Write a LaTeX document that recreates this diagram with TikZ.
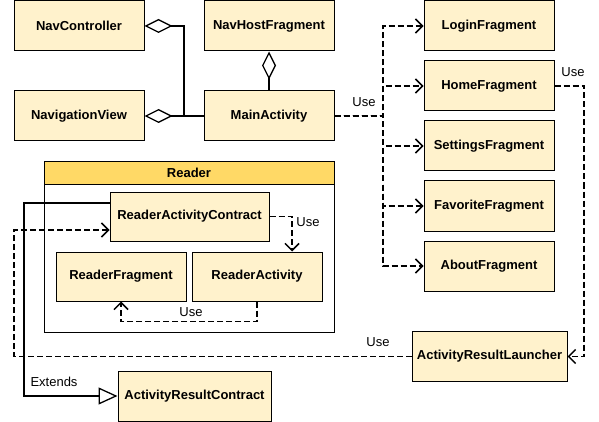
\documentclass[tikz,border=0pt]{standalone}
\usepackage{fontspec}
\setmainfont{Liberation Sans}
\usetikzlibrary{arrows.meta}
\definecolor{classfill}{HTML}{FFF2CC}
\definecolor{pkgfill}{HTML}{FFD966}

\begin{document}
\begin{tikzpicture}[x=1pt,y=-1pt,line width=1.5pt]
    \tikzstyle{class}=[rectangle,draw=black,line width=1pt,fill=classfill,minimum width=130pt,minimum height=50pt,inner sep=0pt,font=\fontsize{13}{15}\selectfont\bfseries]
    \tikzstyle{label}=[inner sep=0pt,font=\fontsize{13}{15}\selectfont]
    \tikzstyle{use}=[dash pattern=on 6pt off 3pt,-{Straight Barb[length=7pt,width=14pt]}]
    \tikzstyle{agg}=[-{Diamond[open,length=28pt,width=14pt,line width=1.3pt]}]
    \tikzstyle{ext}=[-{Triangle[open,length=19pt,width=17pt,line width=1.3pt]}]
    \useasboundingbox (0,0) rectangle (599,422);

    % reader package
    \node[rectangle,draw=black,line width=1pt,fill=white,minimum width=290pt,minimum height=170pt,inner sep=0pt] (reader) at (189,247) {};
    \node[rectangle,draw=black,line width=1pt,fill=pkgfill,minimum width=290pt,minimum height=22pt,inner sep=0pt,font=\fontsize{13}{15}\selectfont\bfseries] (readerhead) at (189,173) {Reader};

    \node[class] (navctrl) at (79,26) {NavController};
    \node[class] (navhost) at (269,26) {NavHostFragment};
    \node[class] (navview) at (79,116) {NavigationView};
    \node[class] (main) at (269,116) {MainActivity};

    \foreach \name/\y/\txt in {login/26/LoginFragment, home/86/HomeFragment, settings/146/SettingsFragment, favorite/206/FavoriteFragment, about/266/AboutFragment}
            \node[class] (\name) at (489,\y) {\txt};

    \node[class,minimum width=155pt] (launcher) at (489.5,356.5) {ActivityResultLauncher};
    \node[class,minimum width=153pt] (contract) at (194.5,396) {ActivityResultContract};
    \node[class,minimum width=159pt,minimum height=49pt] (readercontract) at (189.5,216.5) {ReaderActivityContract};
    \node[class,minimum height=49pt] (readerfrag) at (121,276.5) {ReaderFragment};
    \node[class,minimum height=49pt] (readeract) at (257,276.5) {ReaderActivity};

    \coordinate (navjoin) at (184,116);
    \coordinate (bus) at (383,116);
    \coordinate (rightbus) at (584,86);
    \coordinate (usebend) at (14,356.5);
    \coordinate (extbend) at (24,203);

    \draw[agg] (main.west) -- (navview.east);
    \draw[agg] (navjoin) |- (navctrl.east);
    \draw[agg] (main.north) -- (navhost.south);

    \foreach \to in {login,home,settings,favorite,about}
        \draw[use] (main.east) -- (bus) |- (\to.west);

    \draw[use] (home.east) -- (rightbus) |- (launcher.east);
    \draw[use] (launcher.west) -- (usebend) |- ([yshift=-13.5pt]readercontract.west);
    \draw[use] (readercontract.east) -| ([xshift=35pt]readeract.north);
    \draw[use] (readeract.south) -- ++(0,20) -| (readerfrag.south);
    \draw[ext] ([yshift=13.5pt]readercontract.west) -- (extbend) |- (contract.west);

    \node[label] (usemain) at (364,102) {Use};
    \node[label] (usehome) at (573,72) {Use};
    \node[label] (uselauncher) at (378,342) {Use};
    \node[label] (usecontract) at (308,222) {Use};
    \node[label] (useact) at (191,312) {Use};
    \node[label] (extends) at (54,382) {Extends};
\end{tikzpicture}
\end{document}
